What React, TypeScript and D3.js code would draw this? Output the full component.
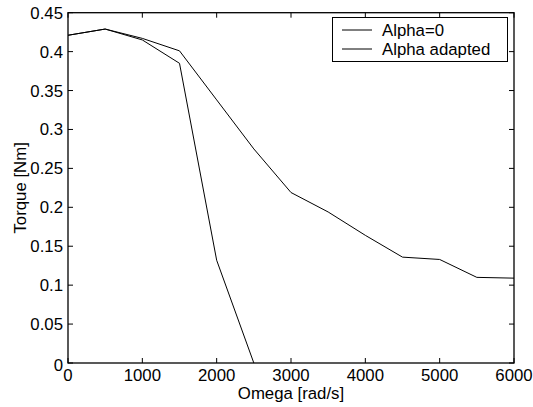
import React, { useEffect, useRef } from "react";
import * as d3 from "d3";

const omega = [0, 500, 1000, 1500, 2000, 2500, 3000, 3500, 4000, 4500, 5000, 5500, 6000];
const torqueAlpha0 = [0.421, 0.429, 0.415, 0.385, 0.132, 0];
const torqueAdapted = [0.421, 0.429, 0.417, 0.401, 0.338, 0.275, 0.219, 0.194, 0.164, 0.136, 0.133, 0.110, 0.109];
const seriesNames = ["Alpha=0", "Alpha adapted"];
const xTicks = [0, 1000, 2000, 3000, 4000, 5000, 6000];
const yTicks = [0, 0.05, 0.1, 0.15, 0.2, 0.25, 0.3, 0.35, 0.4, 0.45];

const W = 533;
const H = 407;
const FONT = "'Liberation Sans', Arial, sans-serif";
const FS = 16.8;

function TorquePlot() {
  const ref = useRef<SVGSVGElement>(null);

  useEffect(() => {
    const svg = d3.select(ref.current);
    svg.selectAll("*").remove();

    const left = 68, right = 514, top = 12.7, bottom = 363;
    const x = d3.scaleLinear().domain([0, 6000]).range([left, right]);
    const y = d3.scaleLinear().domain([0, 0.45]).range([bottom, top]);

    svg.append("rect").attr("width", W).attr("height", H).attr("fill", "#fff");

    // axes box
    svg
      .append("rect")
      .attr("x", left)
      .attr("y", top)
      .attr("width", right - left)
      .attr("height", bottom - top)
      .attr("fill", "none")
      .attr("stroke", "#000")
      .attr("stroke-width", 1.3);

    const tl = 5;
    // x ticks, inward on bottom and top
    xTicks.forEach((t) => {
      svg.append("line").attr("x1", x(t)).attr("x2", x(t)).attr("y1", bottom).attr("y2", bottom - tl).attr("stroke", "#000");
      svg.append("line").attr("x1", x(t)).attr("x2", x(t)).attr("y1", top).attr("y2", top + tl).attr("stroke", "#000");
      svg
        .append("text")
        .attr("x", x(t))
        .attr("y", bottom + 18)
        .attr("text-anchor", "middle")
        .attr("font-family", FONT)
        .attr("font-size", FS)
        .text(String(t));
    });

    // y ticks, inward on left and right
    yTicks.forEach((t) => {
      svg.append("line").attr("x1", left).attr("x2", left + tl).attr("y1", y(t)).attr("y2", y(t)).attr("stroke", "#000");
      svg.append("line").attr("x1", right).attr("x2", right - tl).attr("y1", y(t)).attr("y2", y(t)).attr("stroke", "#000");
      svg
        .append("text")
        .attr("x", left - 5)
        .attr("y", y(t) + 6 + (t === 0 ? 2 : 0))
        .attr("text-anchor", "end")
        .attr("font-family", FONT)
        .attr("font-size", FS)
        .text(String(t));
    });

    const line = d3
      .line<number>()
      .x((_, i) => x(omega[i]))
      .y((d) => y(d));

    [torqueAlpha0, torqueAdapted].forEach((s) => {
      svg
        .append("path")
        .attr("d", line(s))
        .attr("fill", "none")
        .attr("stroke", "#000")
        .attr("stroke-width", 1);
    });

    // axis labels
    svg
      .append("text")
      .attr("x", (left + right) / 2)
      .attr("y", 399)
      .attr("text-anchor", "middle")
      .attr("font-family", FONT)
      .attr("font-size", FS)
      .text("Omega [rad/s]");
    svg
      .append("text")
      .attr("transform", `translate(26,${(top + bottom) / 2}) rotate(-90)`)
      .attr("text-anchor", "middle")
      .attr("font-family", FONT)
      .attr("font-size", FS)
      .text("Torque [Nm]");

    // legend
    const lg = svg.append("g");
    lg.append("rect")
      .attr("x", 332.5)
      .attr("y", 17.5)
      .attr("width", 175)
      .attr("height", 44)
      .attr("fill", "#fff")
      .attr("stroke", "#000")
      .attr("stroke-width", 1);
    seriesNames.forEach((name, i) => {
      const ly = 30 + i * 19;
      lg.append("line").attr("x1", 342).attr("x2", 372).attr("y1", ly).attr("y2", ly).attr("stroke", "#000");
      lg.append("text")
        .attr("x", 382)
        .attr("y", ly + 6)
        .attr("font-family", FONT)
        .attr("font-size", FS)
        .text(name);
    });
  }, []);

  return <svg ref={ref} width={W} height={H} style={{ position: "absolute", left: 0, top: 0 }} />;
}

export default function App() {
  return <TorquePlot />;
}
